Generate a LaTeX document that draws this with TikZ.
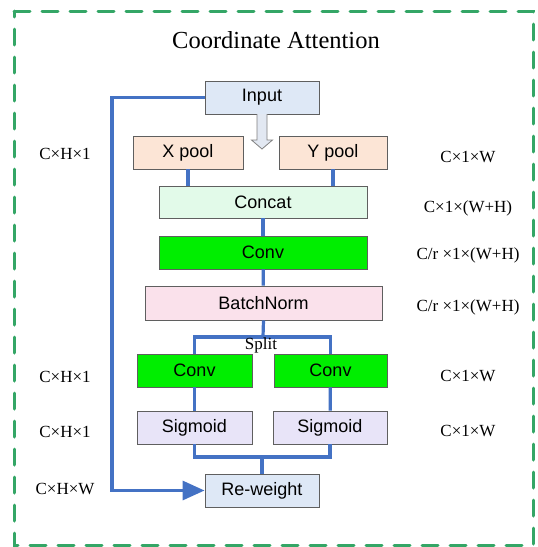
\documentclass[tikz,border=0pt]{standalone}
\usepackage{fontspec}
\setmainfont{Liberation Serif}
\setsansfont{Liberation Sans}
\usetikzlibrary{arrows.meta}
\definecolor{frameg}{RGB}{52,166,102}
\definecolor{lblue}{RGB}{68,114,196}
\definecolor{boxborder}{RGB}{95,95,95}
\definecolor{inputc}{RGB}{222,232,246}
\definecolor{poolc}{RGB}{252,229,214}
\definecolor{concatc}{RGB}{226,250,233}
\definecolor{convc}{RGB}{0,238,0}
\definecolor{bnc}{RGB}{250,225,235}
\definecolor{sigc}{RGB}{232,228,248}
\definecolor{hollowc}{RGB}{226,232,242}
\begin{document}
\begin{tikzpicture}[x=1pt,y=-1pt,
  box/.style={draw=boxborder, line width=0.9pt, inner sep=0pt, minimum height=33pt,
    font=\sffamily\fontsize{18}{20}\selectfont},
  conn/.style={draw=lblue, line width=3.2pt},
  lbl/.style={font=\fontsize{17}{19}\selectfont, inner sep=0pt}]
\useasboundingbox (0,0) rectangle (538,547);
\draw[frameg, line width=3pt, line cap=round, dash pattern=on 16pt off 12pt] (14,11) -- (533,11) -- (533,545) -- (14,545) -- cycle;
\node[font=\fontsize{24.5}{27}\selectfont, anchor=base, inner sep=0pt] (title) at (276,48.5) {Coordinate Attention};

\node[box, fill=inputc, minimum width=114pt] (input) at (262,97.5) {Input};
\node[box, fill=poolc, minimum width=110pt] (xpool) at (188,152.5) {X pool};
\node[box, fill=poolc, minimum width=108pt] (ypool) at (333,152.5) {Y pool};
\node[box, fill=concatc, minimum width=208pt, minimum height=32pt] (concat) at (263,202) {Concat};
\node[box, fill=convc, minimum width=208pt] (conv) at (263,252.5) {Conv};
\node[box, fill=bnc, minimum width=237pt, minimum height=34pt] (bn) at (263.5,303) {BatchNorm};
\node[box, fill=convc, minimum width=115pt] (convl) at (194.5,370.5) {Conv};
\node[box, fill=convc, minimum width=113pt] (convr) at (330.5,370.5) {Conv};
\node[box, fill=sigc, minimum width=115pt] (sigl) at (194.5,427.5) {Sigmoid};
\node[box, fill=sigc, minimum width=114pt] (sigr) at (330,427.5) {Sigmoid};
\node[box, fill=inputc, minimum width=114pt] (rew) at (262,490.5) {Re-weight};

% hollow arrow
\draw[draw=boxborder!80, fill=hollowc, line width=0.8pt]
  (257,114) -- (257,140) -- (251.5,140) -- (262,149) -- (272.5,140) -- (267,140) -- (267,114);

% connectors
\draw[conn] (xpool.south) -- (xpool.south |- concat.north);
\draw[conn] (ypool.south) -- (ypool.south |- concat.north);
\draw[conn] (concat) -- (conv);
\draw[conn] (conv) -- (bn);
\coordinate (sp) at (263,337);
\draw[conn] (bn.south) -- (sp);
\draw[conn] (convl.north) |- (sp) -| (convr.north);
\node[lbl] (split) at (261,345) {Split};
\draw[conn] (convl) -- (sigl);
\draw[conn] (convr) -- (sigr);
\coordinate (mg) at (262,457);
\draw[conn] (sigl.south) |- (mg) -| (sigr.south);
\draw[conn] (mg) -- (rew.north);
\coordinate (sk) at (112,0);
\draw[conn, -{Triangle[length=22pt,width=19pt]}] (input.west) -- (input.west -| sk) |- (rew.west);

% labels
\node[lbl] (l1) at (65,154) {C×H×1};
\node[lbl] (l2) at (65,377) {C×H×1};
\node[lbl] (l3) at (65,432) {C×H×1};
\node[lbl] (l4) at (65,489) {C×H×W};
\node[lbl] (r1) at (468,157) {C×1×W};
\node[lbl] (r2) at (468,208) {C×1×(W+H)};
\node[lbl] (r3) at (468,255) {C/r ×1×(W+H)};
\node[lbl] (r4) at (468,307) {C/r ×1×(W+H)};
\node[lbl] (r5) at (468,376) {C×1×W};
\node[lbl] (r6) at (468,431) {C×1×W};
\end{tikzpicture}
\end{document}
